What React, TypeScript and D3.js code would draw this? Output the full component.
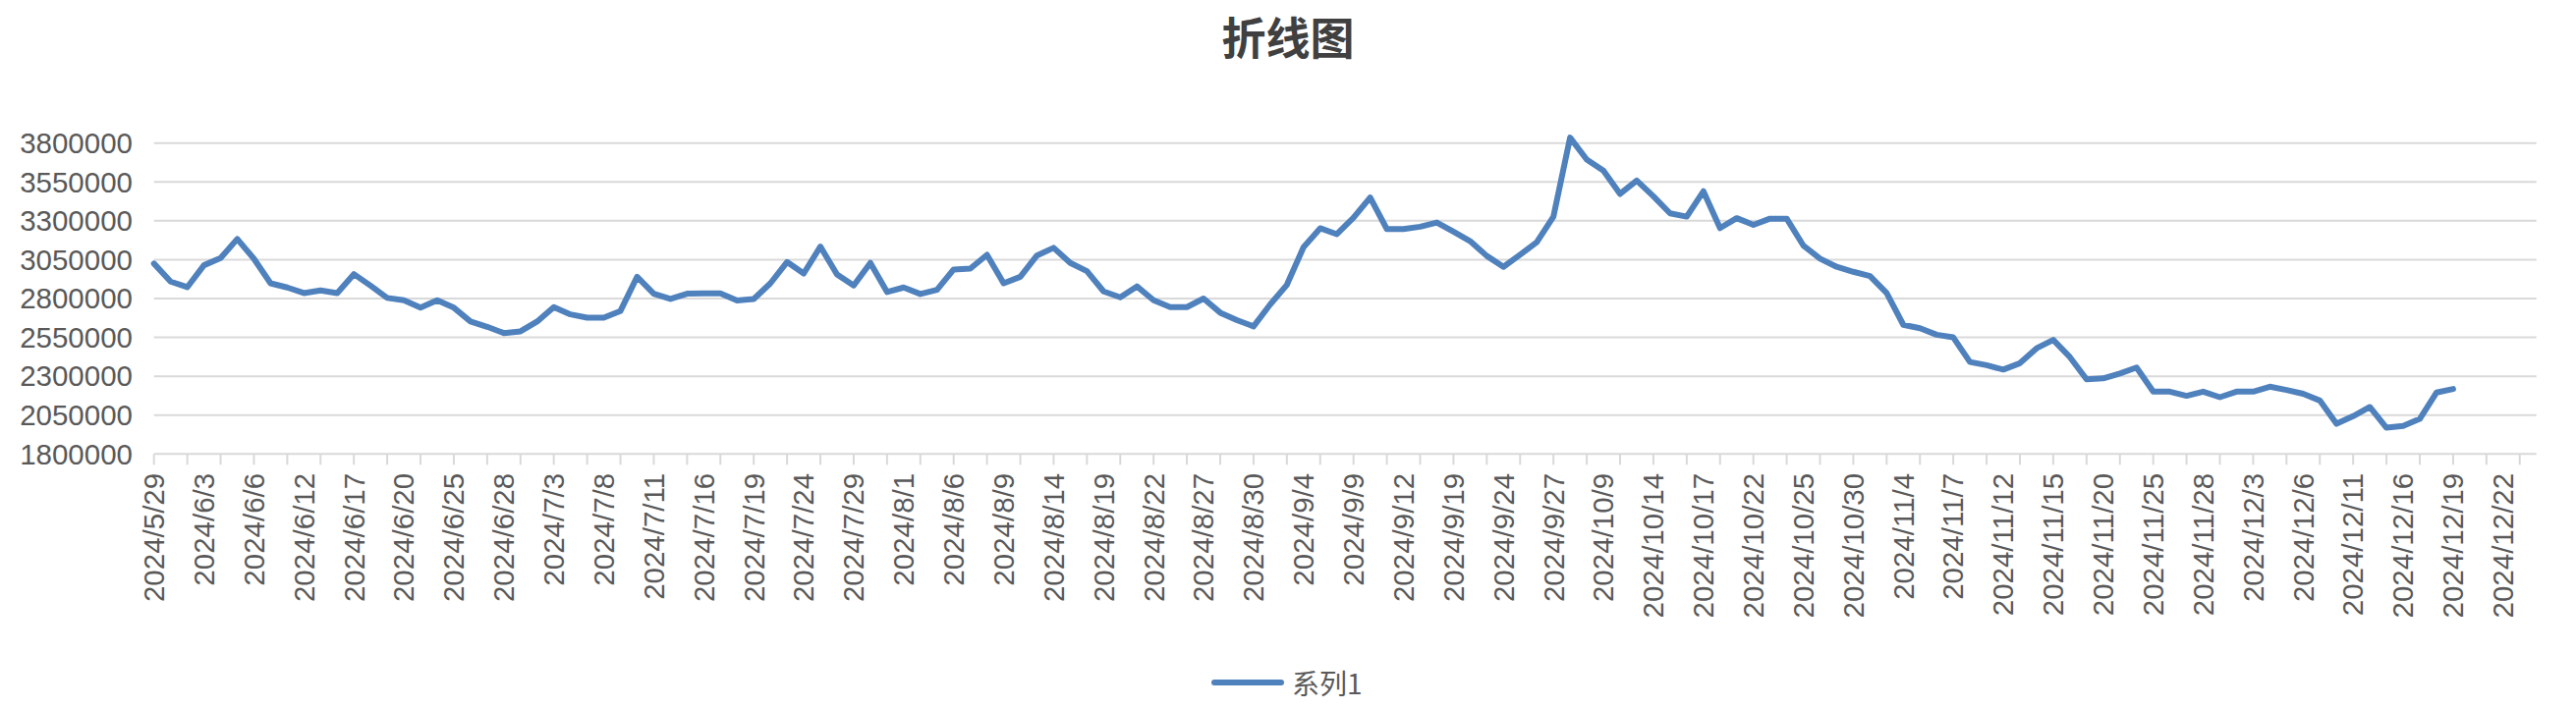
import React from "react";
import * as d3 from "d3";

const title = "折线图";
const seriesName = "系列1";

const dates: string[] = [
  "2024/5/29","2024/5/30","2024/5/31",
  "2024/6/3","2024/6/4","2024/6/5","2024/6/6","2024/6/7","2024/6/11","2024/6/12","2024/6/13","2024/6/14",
  "2024/6/17","2024/6/18","2024/6/19","2024/6/20","2024/6/21","2024/6/24","2024/6/25","2024/6/26","2024/6/27","2024/6/28",
  "2024/7/1","2024/7/2","2024/7/3","2024/7/4","2024/7/5","2024/7/8","2024/7/9","2024/7/10","2024/7/11","2024/7/12",
  "2024/7/15","2024/7/16","2024/7/17","2024/7/18","2024/7/19","2024/7/22","2024/7/23","2024/7/24","2024/7/25","2024/7/26",
  "2024/7/29","2024/7/30","2024/7/31",
  "2024/8/1","2024/8/2","2024/8/5","2024/8/6","2024/8/7","2024/8/8","2024/8/9","2024/8/12","2024/8/13","2024/8/14","2024/8/15","2024/8/16",
  "2024/8/19","2024/8/20","2024/8/21","2024/8/22","2024/8/23","2024/8/26","2024/8/27","2024/8/28","2024/8/29","2024/8/30",
  "2024/9/2","2024/9/3","2024/9/4","2024/9/5","2024/9/6","2024/9/9","2024/9/10","2024/9/11","2024/9/12","2024/9/13",
  "2024/9/18","2024/9/19","2024/9/20","2024/9/23","2024/9/24","2024/9/25","2024/9/26","2024/9/27","2024/9/30",
  "2024/10/8","2024/10/9","2024/10/10","2024/10/11","2024/10/14","2024/10/15","2024/10/16","2024/10/17","2024/10/18",
  "2024/10/21","2024/10/22","2024/10/23","2024/10/24","2024/10/25","2024/10/28","2024/10/29","2024/10/30","2024/10/31",
  "2024/11/1","2024/11/4","2024/11/5","2024/11/6","2024/11/7","2024/11/8","2024/11/11","2024/11/12","2024/11/13","2024/11/14","2024/11/15",
  "2024/11/18","2024/11/19","2024/11/20","2024/11/21","2024/11/22","2024/11/25","2024/11/26","2024/11/27","2024/11/28","2024/11/29",
  "2024/12/2","2024/12/3","2024/12/4","2024/12/5","2024/12/6","2024/12/9","2024/12/10","2024/12/11","2024/12/12","2024/12/13",
  "2024/12/16","2024/12/17","2024/12/18","2024/12/19",
  "2024/12/20","2024/12/21","2024/12/22","2024/12/23","2024/12/24",
];

const values: number[] = [
  3025000, 2909000, 2873000, 3014000, 3060000, 3183000, 3056000, 2898000, 2871000, 2835000,
  2852000, 2835000, 2957000, 2883000, 2804000, 2789000, 2741000, 2789000, 2741000, 2652000,
  2618000, 2578000, 2589000, 2652000, 2745000, 2698000, 2677000, 2677000, 2720000, 2940000,
  2831000, 2797000, 2831000, 2833000, 2833000, 2787000, 2797000, 2898000, 3035000, 2961000,
  3134000, 2955000, 2884000, 3029000, 2842000, 2871000, 2829000, 2856000, 2987000, 2993000,
  3081000, 2898000, 2940000, 3077000, 3126000, 3029000, 2976000, 2846000, 2808000, 2878000,
  2789000, 2745000, 2745000, 2800000, 2709000, 2661000, 2621000, 2762000, 2888000, 3130000,
  3252000, 3214000, 3320000, 3450000, 3247000, 3247000, 3262000, 3289000, 3230000, 3169000,
  3074000, 3004000, 3082000, 3162000, 3327000, 3835000, 3694000, 3623000, 3473000, 3559000,
  3458000, 3348000, 3327000, 3490000, 3253000, 3317000, 3274000, 3314000, 3314000, 3141000,
  3057000, 3004000, 2972000, 2945000, 2835000, 2631000, 2609000, 2567000, 2550000, 2392000,
  2371000, 2343000, 2384000, 2480000, 2534000, 2423000, 2280000, 2286000, 2318000, 2356000,
  2201000, 2201000, 2174000, 2201000, 2165000, 2201000, 2201000, 2233000, 2212000, 2187000,
  2144000, 1994000, 2043000, 2102000, 1969000, 1980000, 2026000, 2195000, 2218000,
];

const yTicks: number[] = [1800000, 2050000, 2300000, 2550000, 2800000, 3050000, 3300000, 3550000, 3800000];

const W = 2622;
const H = 722;
const LEFT = 156.7;
const RIGHT = 2581.7;
const TOP = 145.7;
const BOTTOM = 462.3;
const TEXT = "#595959";
const GRID = "#d9d9d9";
const LINE = "#4f81bd";
const LATIN = "'Liberation Sans', Arial, Helvetica, sans-serif";
const CJK = "'Noto Sans CJK SC', 'Liberation Sans', sans-serif";

export default function App() {
  const x = d3.scalePoint<string>().domain(dates).range([LEFT, RIGHT]).padding(0);
  const y = d3.scaleLinear().domain([1800000, 3800000]).range([BOTTOM, TOP]);
  const line = d3
    .line<number>()
    .x((_, i) => x(dates[i]) as number)
    .y((d) => y(d));

  return (
    <svg
      width={W}
      height={H}
      viewBox={`0 0 ${W} ${H}`}
      style={{ position: "absolute", left: 0, top: 0, background: "#fff" }}
    >
      <rect x={0} y={0} width={W} height={H} fill="#fff" />
      <text
        x={W / 2}
        y={56}
        textAnchor="middle"
        fontFamily={CJK}
        fontWeight={700}
        fontSize={45}
        fill="#404040"
      >
        {title}
      </text>

      {yTicks.map((t) => (
        <g key={t}>
          <line x1={LEFT} x2={RIGHT} y1={y(t)} y2={y(t)} stroke={GRID} strokeWidth={2} />
          <text
            x={135}
            y={y(t)}
            dy="0.35em"
            textAnchor="end"
            fontFamily={LATIN}
            fontSize={29.5}
            fill={TEXT}
          >
            {t}
          </text>
        </g>
      ))}

      {dates.map((d, i) =>
        i % 2 === 0 ? (
          <line
            key={"t" + d}
            x1={x(d)}
            x2={x(d)}
            y1={BOTTOM}
            y2={BOTTOM + 11}
            stroke={GRID}
            strokeWidth={2}
          />
        ) : null
      )}

      {dates.map((d, i) =>
        i % 3 === 0 ? (
          <text
            key={"l" + d}
            transform={`translate(${x(d)},${BOTTOM + 19.5}) rotate(-90)`}
            dy="0.35em"
            textAnchor="end"
            fontFamily={LATIN}
            fontSize={29.5}
            fill={TEXT}
          >
            {d}
          </text>
        ) : null
      )}

      <path
        d={line(values) || ""}
        fill="none"
        stroke={LINE}
        strokeWidth={6}
        strokeLinejoin="round"
        strokeLinecap="round"
      />

      <line x1={1236} x2={1304} y1={695} y2={695} stroke={LINE} strokeWidth={6} strokeLinecap="round" />
      <text x={1315} y={707} fontFamily={CJK} fontSize={28} fill={TEXT}>
        {seriesName}
      </text>
    </svg>
  );
}
